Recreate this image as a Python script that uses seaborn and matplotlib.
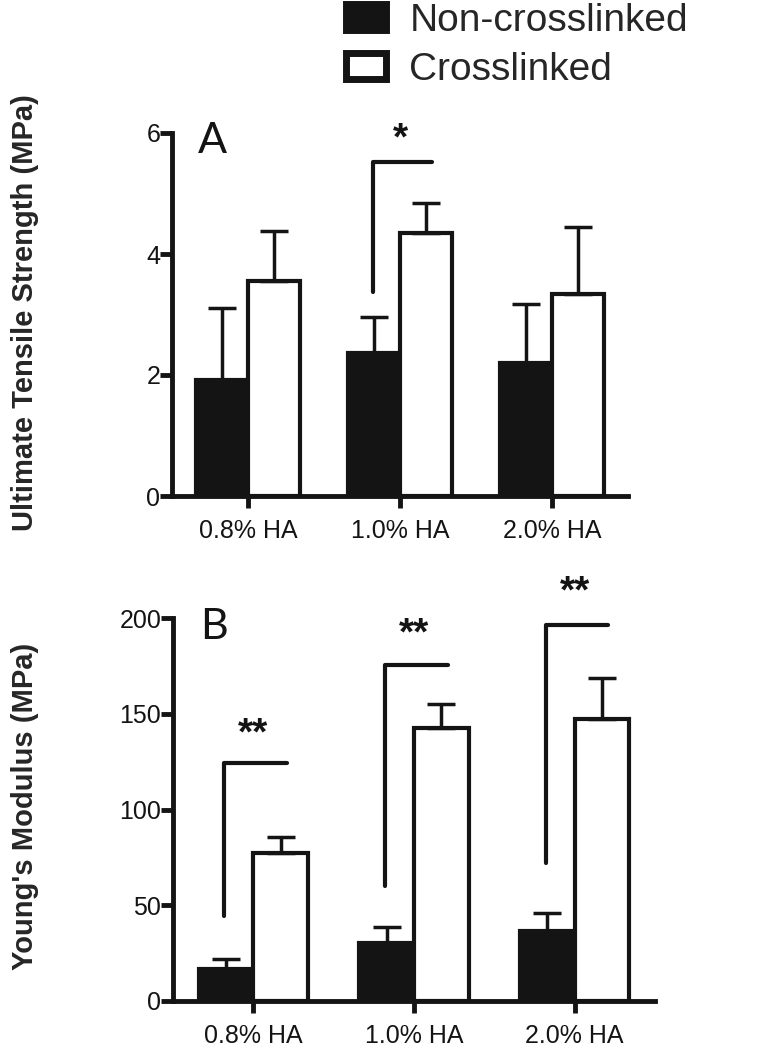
import numpy as np
import pandas as pd
import matplotlib
matplotlib.use("Agg")
import matplotlib.pyplot as plt
from matplotlib.patches import Patch
import seaborn as sns

categories = ["0.8% HA", "1.0% HA", "2.0% HA"]
groups = ["Non-crosslinked", "Crosslinked"]

# panel A - ultimate tensile strength (MPa), mean and upper SD
uts_non = [1.92, 2.36, 2.20]
uts_non_err = [1.19, 0.60, 0.97]
uts_cross = [3.55, 4.35, 3.34]
uts_cross_err = [0.83, 0.49, 1.11]

# panel B - young's modulus (MPa)
ym_non = [16.7, 30.3, 36.5]
ym_non_err = [5.3, 8.3, 9.5]
ym_cross = [77.3, 142.6, 147.3]
ym_cross_err = [8.3, 12.4, 21.3]

# significance brackets: category, stars, bracket bottom/top, star height
sig_a_cat = [1]
sig_a_text = ["*"]
sig_a_lo = [3.37]
sig_a_hi = [5.52]
sig_a_star = [5.9]

sig_b_cat = [0, 1, 2]
sig_b_text = ["**", "**", "**"]
sig_b_lo = [44.4, 60, 72]
sig_b_hi = [124.3, 175.5, 196.3]
sig_b_star = [139, 191.6, 213.3]

ink = "#141414"
pal = {"Non-crosslinked": ink, "Crosslinked": "white"}

sns.set_style("ticks")
plt.rcParams["font.family"] = ["Liberation Sans", "DejaVu Sans"]
plt.rcParams["axes.linewidth"] = 3.5
plt.rcParams["axes.edgecolor"] = ink
plt.rcParams["xtick.major.width"] = 3.5
plt.rcParams["ytick.major.width"] = 3.5
plt.rcParams["xtick.major.size"] = 8.5
plt.rcParams["ytick.major.size"] = 8.5
plt.rcParams["xtick.color"] = ink
plt.rcParams["ytick.color"] = ink
plt.rcParams["xtick.labelsize"] = 18
plt.rcParams["ytick.labelsize"] = 18


def draw_panel(ax, non, non_err, cross, cross_err, ylim, yticks, ylabel, letter,
               s_cat, s_text, s_lo, s_hi, s_star):
    df = pd.DataFrame({
        "HA": categories * 2,
        "group": [groups[0]] * 3 + [groups[1]] * 3,
        "value": non + cross,
    })
    sns.barplot(data=df, x="HA", y="value", hue="group", hue_order=groups,
                palette=pal, width=0.68, edgecolor=ink, linewidth=3,
                errorbar=None, legend=False, ax=ax)
    for bars, err in zip(ax.containers, [non_err, cross_err]):
        xs = [b.get_x() + b.get_width() / 2 for b in bars]
        hs = [b.get_height() for b in bars]
        ax.errorbar(xs, hs, yerr=[np.zeros(len(err)), err], fmt="none",
                    ecolor=ink, elinewidth=2.5, capsize=10, capthick=2.5)
    for c, t, lo, hi, st in zip(s_cat, s_text, s_lo, s_hi, s_star):
        ax.plot([c - 0.18, c - 0.18, c + 0.21], [lo, hi, hi], color=ink,
                lw=3, solid_capstyle="round", clip_on=False)
        ax.text(c, st, t, ha="center", va="center", fontsize=28,
                fontweight="bold", color=ink, clip_on=False)
    ax.set_xlim(-0.5, 2.5)
    ax.set_ylim(*ylim)
    ax.set_yticks(yticks)
    ax.set_xlabel("")
    ax.set_ylabel(ylabel, fontsize=21, fontweight="bold")
    ax.tick_params(axis="y", pad=0)
    ax.tick_params(axis="x", pad=8)
    ax.text(0.057, 0.945, letter, transform=ax.transAxes, fontsize=31,
            family="Lato", ha="left", va="baseline", color=ink)
    sns.despine(ax=ax)


fig = plt.figure(figsize=(7.59, 10.5), dpi=100)
ax_a = fig.add_axes([172 / 759, 1 - 496 / 1050, 456 / 759, 363 / 1050])
ax_b = fig.add_axes([173 / 759, 1 - 1001 / 1050, 482 / 759, 383 / 1050])

draw_panel(ax_a, uts_non, uts_non_err, uts_cross, uts_cross_err, (0, 6),
           [0, 2, 4, 6], "Ultimate Tensile Strength (MPa)", "A",
           sig_a_cat, sig_a_text, sig_a_lo, sig_a_hi, sig_a_star)
draw_panel(ax_b, ym_non, ym_non_err, ym_cross, ym_cross_err, (0, 200),
           [0, 50, 100, 150, 200], "Young's Modulus (MPa)", "B",
           sig_b_cat, sig_b_text, sig_b_lo, sig_b_hi, sig_b_star)
ax_a.yaxis.set_label_coords(-0.292, 0.504)
ax_b.yaxis.set_label_coords(-0.278, 0.507)

handles = [Patch(facecolor=pal[g], edgecolor=ink, linewidth=5, label=g) for g in groups]
fig.legend(handles=handles, loc="upper left", bbox_to_anchor=(346 / 759, 1 - 3 / 1050),
           frameon=False, fontsize=28, handlelength=1.03, handleheight=0.65,
           handletextpad=0.6, labelspacing=0.33, borderpad=0, borderaxespad=0)

fig.savefig("out.png", dpi=100)
